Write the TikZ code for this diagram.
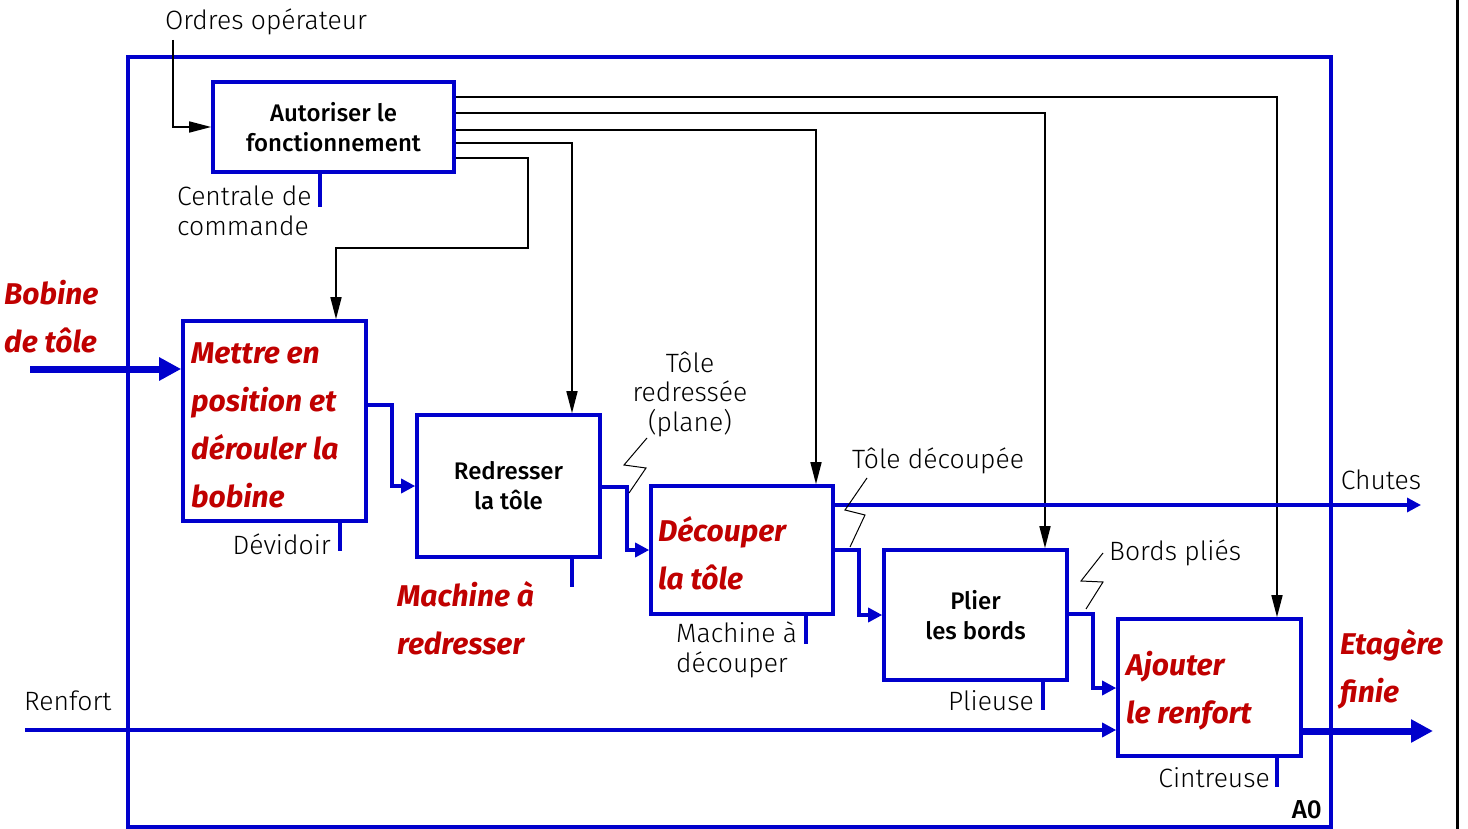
\documentclass[tikz,border=0pt]{standalone}
\usepackage{fontspec}
\setmainfont{Fira Sans}[UprightFont=* Light, BoldFont=* Medium, ItalicFont=* Light Italic, BoldItalicFont=* Bold Italic]
\usetikzlibrary{arrows.meta}
\definecolor{idefblue}{RGB}{0,0,204}
\definecolor{idefred}{RGB}{192,0,0}
\tikzset{
  x=1pt, y=-1pt,
  box/.style={draw=idefblue, line width=3.6pt, fill=white, inner sep=0pt, align=center, font=\fontsize{24}{30}\selectfont\bfseries},
  lbl/.style={inner sep=0pt, align=left, font=\fontsize{26.5}{29.5}\selectfont},
  redlbl/.style={inner sep=0pt, align=left, text=idefred, font=\fontsize{30}{48}\selectfont\bfseries\itshape},
  flow/.style={draw=idefblue, line width=3.3pt},
  flowarr/.style={flow, -{Triangle[length=14pt,width=14pt]}},
  bigarr/.style={draw=idefblue, line width=7pt, -{Triangle[length=22pt,width=22pt]}},
  ctrl/.style={draw=black, line width=1.6pt, -{Triangle[length=22pt,width=11pt]}},
  zig/.style={draw=black, line width=1pt},
  mech/.style={draw=idefblue, line width=3.3pt},
}
\begin{document}
\begin{tikzpicture}
\useasboundingbox (0,0) rectangle (1468,829);
% outer frame
\draw[idefblue, line width=3.5pt] (128,57) rectangle (1331,827);
\draw[black, line width=3pt] (1457,0) -- (1457,829);

% boxes
\node[box, minimum width=241pt, minimum height=90pt] (auto) at (333.5,127) {Autoriser le\\fonctionnement};
\node[box, minimum width=183pt, minimum height=200pt] (mettre) at (274.5,421) {};
\node[box, minimum width=183pt, minimum height=142pt] (redr) at (508.5,486) {Redresser\\la tôle};
\node[box, minimum width=182pt, minimum height=128pt] (decoup) at (742,550) {};
\node[box, minimum width=183pt, minimum height=130pt] (plier) at (975.5,615) {Plier\\les bords};
\node[box, minimum width=183pt, minimum height=137pt] (ajout) at (1209.5,687.5) {};

% red box texts
\node[redlbl, anchor=west] (mettretxt) at (191,425) {Mettre en\\position et\\dérouler la\\bobine};
\node[redlbl, anchor=west] (decouptxt) at (658,553) {Découper\\la tôle};
\node[redlbl, anchor=west] (ajouttxt) at (1126,691) {Ajouter\\le renfort};

% labels
\node[lbl, anchor=center] (ordres) at (266,22) {Ordres opérateur};
\coordinate (ordresend) at (173,40);
\node[lbl, anchor=west] (centrale) at (177,211) {Centrale de\\commande};
\node[lbl, anchor=east] (devidoir) at (331,544) {Dévidoir};
\node[redlbl, anchor=west] (machred) at (397,618) {Machine à\\redresser};
\node[lbl, align=center] (toleredr) at (690,394) {Tôle\\redressée\\(plane)};
\node[lbl, anchor=west] (machdec) at (676,650) {Machine à\\découper};
\node[lbl, anchor=west] (toledec) at (852,461) {Tôle découpée};
\node[lbl] (chutes) at (1381,480) {Chutes};
\node[lbl, anchor=west] (bords) at (1109,553) {Bords pliés};
\node[lbl, anchor=east] (plieuse) at (1034,701) {Plieuse};
\node[lbl, anchor=west] (renfort) at (24,701) {Renfort};
\node[lbl, anchor=east] (cintreuse) at (1270,778) {Cintreuse};
\node[redlbl, anchor=west] (etagere) at (1340,669) {Etagère\\finie};
\node[redlbl, anchor=west] (bobine) at (4,317) {Bobine\\de tôle};
\node[lbl, anchor=east, font=\fontsize{26}{29}\selectfont\bfseries] (azero) at (1322,810) {A0};

% control lines
\draw[ctrl] (ordresend) |- (auto.west);
\draw[ctrl] (auto.east |- 0,97) -| (ajout.north -| 1277,0);
\draw[ctrl] (auto.east |- 0,113) -| (plier.north -| 1045,0);
\draw[ctrl] (auto.east |- 0,130) -| (decoup.north -| 816,0);
\draw[ctrl] (auto.east |- 0,143) -| (redr.north -| 572,0);
\draw[ctrl] (auto.east |- 0,158) -| (528,248) -| (mettre.north -| 336,0);

% flows
\coordinate (bobinestart) at (30,369);
\draw[bigarr] (bobinestart) -- (mettre.west |- 0,369);
\draw[flowarr] (mettre.east |- 0,405) -| (392,486) -- (redr.west);
\draw[flowarr] (redr.east |- 0,487) -| (627,550) -- (decoup.west);
\coordinate (chutesend) at (1421,505);
\draw[flowarr] (decoup.east |- 0,505) -- (chutesend);
\draw[flowarr] (decoup.east |- 0,550) -| (859,615) -- (plier.west);
\draw[flowarr] (plier.east |- 0,614) -| (1093,688) -- (ajout.west |- 0,688);
\coordinate (renfortstart) at (25,730);
\draw[flowarr] (renfortstart) -- (ajout.west |- 0,730);
\coordinate (etagereend) at (1433,731);
\draw[bigarr] (ajout.east |- 0,731) -- (etagereend);

% mechanisms
\draw[mech] (auto.south -| 320,0) -- (320,207);
\draw[mech] (mettre.south -| 340,0) -- (340,551);
\draw[mech] (redr.south -| 572,0) -- (572,587);
\draw[mech] (decoup.south -| 806,0) -- (806,644);
\draw[mech] (plier.south -| 1043,0) -- (1043,710);
\draw[mech] (ajout.south -| 1277,0) -- (1277,787);

% squiggles
\draw[zig] (647,438) -- (624,465) -- (646,468) -- (629,493);
\draw[zig] (867,478) -- (845,510) -- (865,515) -- (850,547);
\draw[zig] (1103,553) -- (1081,581) -- (1103,582) -- (1086,609);
\end{tikzpicture}
\end{document}
